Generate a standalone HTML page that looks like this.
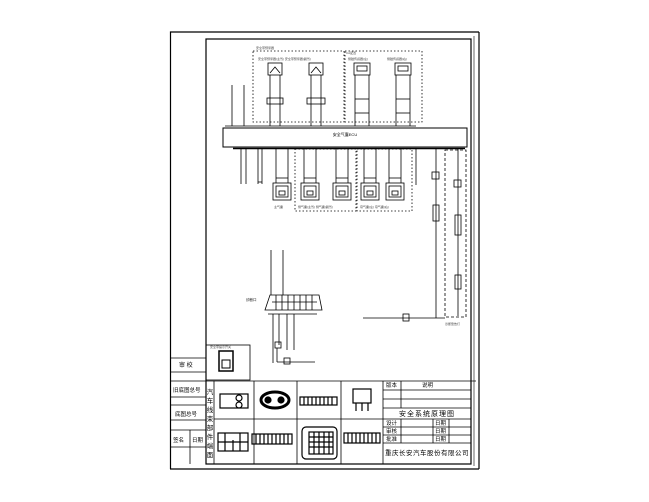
<!DOCTYPE html>
<html><head><meta charset="utf-8"><style>
html,body{margin:0;padding:0;background:#fff;}
svg{display:block;font-family:"Liberation Sans","Noto Sans CJK SC",sans-serif;}
</style></head><body>
<svg width="649" height="502" viewBox="0 0 649 502" xmlns="http://www.w3.org/2000/svg">
<rect width="649" height="502" fill="#fff"/>
<g fill="none" stroke="#000">
<!-- frames -->
<polyline points="170.5,469 170.5,32 479,32" stroke-width="1.2"/>
<line x1="170" y1="469" x2="479" y2="469" stroke-width="1.2"/>
<line x1="479" y1="32" x2="479" y2="469" stroke-width="1.2"/>
<rect x="206" y="39" width="265" height="425" stroke-width="1.2"/>
<line x1="474" y1="36" x2="474" y2="466" stroke-width="0.6"/>

<!-- dotted boxes top -->
<rect x="253" y="51" width="91" height="71" stroke-dasharray="1.5,2" stroke-width="0.8"/>
<rect x="345" y="51" width="77" height="71" stroke-dasharray="1.5,2" stroke-width="0.8"/>
<!-- dotted boxes bottom -->
<rect x="295" y="149" width="61" height="62" stroke-dasharray="1.5,2" stroke-width="0.8"/>
<rect x="357" y="149" width="55" height="62" stroke-dasharray="1.5,2" stroke-width="0.8"/>
<!-- dashed right -->
<rect x="445" y="150" width="21" height="167" stroke-dasharray="3,2" stroke-width="0.8"/>

<!-- ECU bar -->
<line x1="225" y1="126" x2="416" y2="126" stroke-width="0.8"/>
<rect x="223" y="128" width="244" height="19" stroke-width="1"/>
<line x1="233" y1="148.5" x2="465" y2="148.5" stroke-width="1.5"/>

<!-- top connectors -->
<g stroke-width="0.8">
<rect x="268" y="63" width="14" height="12"/><polyline points="270,73 275,67 280,73"/>
<line x1="270" y1="75" x2="270" y2="126"/><line x1="280" y1="75" x2="280" y2="126"/>
<rect x="267" y="98" width="16" height="6"/>
<rect x="309" y="63" width="14" height="12"/><polyline points="311,73 316,67 321,73"/>
<line x1="311" y1="75" x2="311" y2="126"/><line x1="321" y1="75" x2="321" y2="126"/>
<rect x="307" y="98" width="18" height="6"/>
<rect x="354" y="63" width="16" height="12"/><rect x="357" y="66" width="10" height="5"/>
<line x1="355" y1="75" x2="355" y2="126"/><line x1="369" y1="75" x2="369" y2="126"/>
<line x1="355" y1="99" x2="369" y2="99"/><line x1="355" y1="113" x2="369" y2="113"/>
<rect x="395" y="63" width="16" height="12"/><rect x="398" y="66" width="10" height="5"/>
<line x1="396" y1="75" x2="396" y2="126"/><line x1="410" y1="75" x2="410" y2="126"/>
<line x1="396" y1="99" x2="410" y2="99"/><line x1="396" y1="113" x2="410" y2="113"/>
<line x1="232" y1="85" x2="232" y2="126"/><line x1="244" y1="85" x2="244" y2="126"/>
</g>

<!-- bottom connectors -->
<g stroke-width="0.8">
<line x1="241" y1="149" x2="241" y2="184"/><line x1="246" y1="149" x2="246" y2="184"/>
<line x1="258" y1="149" x2="258" y2="184"/><line x1="262" y1="149" x2="262" y2="184"/>
<line x1="258" y1="182" x2="262" y2="182"/>
<g id="bc">
<rect x="273" y="183" width="18" height="17"/><rect x="276" y="186" width="12" height="11"/><rect x="279" y="191" width="6" height="4"/>
<line x1="276" y1="149" x2="276" y2="183"/><line x1="288" y1="149" x2="288" y2="183"/><line x1="276" y1="178" x2="288" y2="178"/>
</g>
<use href="#bc" x="28"/><use href="#bc" x="60"/><use href="#bc" x="88"/><use href="#bc" x="113"/>
<line x1="416" y1="149" x2="416" y2="185"/>
<line x1="436" y1="149" x2="436" y2="318"/>
<line x1="458" y1="149" x2="458" y2="316"/>
<rect x="432" y="172" width="7" height="7"/><rect x="433" y="205" width="6" height="16"/>
<rect x="454" y="180" width="7" height="7"/><rect x="455" y="215" width="6" height="20"/><rect x="455" y="275" width="6" height="14"/>
<line x1="363" y1="318" x2="445" y2="318"/><rect x="403" y="314" width="6" height="7"/>
</g>

<!-- diag connector -->
<g stroke-width="0.8">
<line x1="271" y1="250" x2="271" y2="295"/><line x1="283" y1="250" x2="283" y2="295"/>
<polygon points="270,295 319,295 322,310 265,310"/>
<line x1="272" y1="302" x2="317" y2="302"/>
<path d="M276 295v15M282 295v15M288 295v15M294 295v15M300 295v15M306 295v15M312 295v15"/>
<line x1="268" y1="314" x2="317" y2="314"/>
<line x1="273" y1="314" x2="273" y2="363"/><line x1="279" y1="314" x2="279" y2="345"/><line x1="287" y1="314" x2="287" y2="350"/><line x1="294" y1="314" x2="294" y2="350"/>
<rect x="275" y="342" width="6" height="6"/><line x1="277" y1="348" x2="277" y2="362"/><line x1="277" y1="362" x2="315" y2="362"/><rect x="284" y="358" width="6" height="6"/>
</g>

<!-- small connector panel -->
<rect x="206" y="345" width="44" height="35" stroke-width="0.8"/>
<rect x="219" y="351" width="14" height="20" stroke-width="1.5"/>
<rect x="222" y="360" width="8" height="8" stroke-width="1"/>

<!-- title block -->
<g stroke-width="0.8">
<line x1="170" y1="372" x2="206" y2="372"/>
<line x1="170" y1="381" x2="476" y2="381"/>
<line x1="170" y1="397" x2="206" y2="397"/>
<line x1="170" y1="405" x2="206" y2="405"/>
<line x1="170" y1="420" x2="206" y2="420"/>
<line x1="170" y1="430" x2="206" y2="430"/>
<line x1="170" y1="447" x2="206" y2="447"/>
<line x1="190" y1="430" x2="190" y2="464"/>
<line x1="170" y1="358" x2="206" y2="358"/>
<line x1="214" y1="381" x2="214" y2="464"/>
<line x1="214" y1="419" x2="383" y2="419"/>
<line x1="254" y1="381" x2="254" y2="464"/>
<line x1="297" y1="381" x2="297" y2="464"/>
<line x1="341" y1="381" x2="341" y2="464"/>
<line x1="383" y1="381" x2="383" y2="464"/>
<line x1="383" y1="390" x2="471" y2="390"/>
<line x1="383" y1="399" x2="471" y2="399"/>
<line x1="383" y1="408" x2="471" y2="408"/>
<line x1="383" y1="419" x2="471" y2="419"/>
<line x1="383" y1="427" x2="471" y2="427"/>
<line x1="383" y1="435" x2="471" y2="435"/>
<line x1="383" y1="443" x2="471" y2="443"/>
<line x1="401" y1="381" x2="401" y2="408"/>
<line x1="401" y1="419" x2="401" y2="443"/>
<line x1="433" y1="419" x2="433" y2="443"/>
<line x1="449" y1="419" x2="449" y2="443"/>
</g>
<!-- title block drawings -->
<g stroke-width="1.2">
<rect x="220" y="394" width="28" height="14"/><circle cx="239" cy="398" r="3"/><circle cx="239" cy="405" r="3"/>
<ellipse cx="275" cy="400" rx="14" ry="8" stroke-width="3"/><circle cx="268" cy="400" r="3" fill="#000"/><circle cx="281" cy="400" r="3" fill="#000"/>
<rect x="300" y="397" width="37" height="8"/><path d="M304 397v8M308 397v8M312 397v8M316 397v8M320 397v8M324 397v8M328 397v8M332 397v8"/>
<rect x="353" y="389" width="18" height="14"/><path d="M356 403v8M362 403v8M368 403v8"/>
<rect x="218" y="433" width="30" height="18"/><path d="M225 433v18M233 440v11M240 433v18M218 442h30"/>
<rect x="252" y="434" width="40" height="10"/><path d="M256 434v10M260 434v10M264 434v10M268 434v10M272 434v10M276 434v10M280 434v10M284 434v10M288 434v10"/>
<rect x="302" y="427" width="35" height="32" rx="4"/><rect x="309" y="432" width="24" height="22"/><path d="M309 437h24M309 442h24M309 447h24M314 432v22M319 432v22M324 432v22M329 432v22"/>
<rect x="344" y="433" width="36" height="10"/><path d="M348 433v10M352 433v10M356 433v10M360 433v10M364 433v10M368 433v10M372 433v10M376 433v10"/>
</g>
</g>

<!-- text -->
<g fill="#000">
<text x="345" y="136" font-size="4" text-anchor="middle">安全气囊ECU</text>
<text x="179" y="367" font-size="6">审 校</text>
<text x="173" y="392" font-size="5.5">旧底图总号</text>
<text x="175" y="416" font-size="5.5">底图总号</text>
<text x="173" y="442" font-size="5.5">签名</text><text x="192" y="442" font-size="5.5">日期</text>
<g font-size="6.5" text-anchor="middle"><text x="210" y="394">汽</text><text x="210" y="403">车</text><text x="210" y="412">线</text><text x="210" y="421">束</text><text x="210" y="430">部</text><text x="210" y="439">件</text><text x="210" y="448">端</text><text x="210" y="457">面</text></g>
<text x="386" y="387" font-size="5.5">版本</text><text x="422" y="387" font-size="5.5">说明</text>
<text x="427" y="416" font-size="7" text-anchor="middle" letter-spacing="1">安全系统原理图</text>
<text x="386" y="425" font-size="5.5">设计</text><text x="435" y="425" font-size="5.5">日期</text>
<text x="386" y="433" font-size="5.5">审核</text><text x="435" y="433" font-size="5.5">日期</text>
<text x="386" y="441" font-size="5.5">批准</text><text x="435" y="441" font-size="5.5">日期</text>
<text x="385" y="455" font-size="6.5" letter-spacing="0.5">重庆长安汽车股份有限公司</text>
<text x="246" y="301" font-size="3.5">诊断口</text>
<g font-size="3" fill="#444">
<text x="256" y="49">安全带预紧器</text><text x="258" y="60">安全带预紧器(主驾) 安全带预紧器(副驾)</text>
<text x="346" y="54">CA配置</text><text x="348" y="60">侧碰传感器(左)</text><text x="387" y="60">侧碰传感器(右)</text>
<text x="274" y="208">主气囊</text><text x="298" y="208">侧气囊(主驾) 侧气囊(副驾)</text><text x="360" y="208">帘气囊(左) 帘气囊(右)</text>
<text x="445" y="325">诊断警告灯</text>
<text x="210" y="348">安全带提示开关</text>
</g>
</g>
</svg>
</body></html>
